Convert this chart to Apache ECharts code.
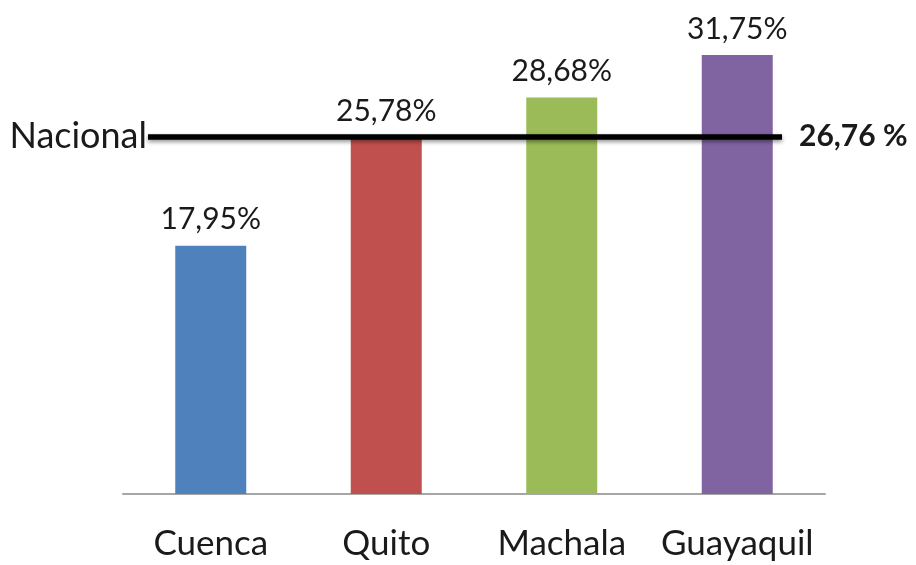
<!DOCTYPE html>
<html>
<head>
<meta charset="utf-8">
<script src="https://cdn.jsdelivr.net/npm/echarts@6/dist/echarts.min.js"></script>
<style>html,body{margin:0;padding:0;background:#fff}#c{width:916px;height:565px}</style>
</head>
<body>
<div id="c"></div>
<script>
var categories = ['Cuenca', 'Quito', 'Machala', 'Guayaquil'];
var values = [17.95, 25.78, 28.68, 31.75];
var barColors = ['#4F81BD', '#C0504D', '#9BBB59', '#8064A2'];
var nacionalLabel = 'Nacional';
var nacionalValueText = '26,76 %';
var nacionalLinePos = 25.85; // position of the line

var FONT = 'Lato';
var chart = echarts.init(document.getElementById('c'), null, {renderer: 'canvas'});
chart.setOption({
  animation: false,
  backgroundColor: '#ffffff',
  grid: {left: 123, right: 91, top: 10, bottom: 71},
  xAxis: {
    type: 'category',
    data: categories,
    axisLine: {show: true, lineStyle: {color: '#a6a6a6', width: 2}},
    axisTick: {show: false},
    axisLabel: {interval: 0, hideOverlap: false, color: '#1a1a1a', fontFamily: FONT, fontSize: 35, margin: 32}
  },
  yAxis: {
    type: 'value', min: 0, max: 35,
    show: false, splitLine: {show: false}
  },
  series: [{
    type: 'bar',
    barWidth: 71,
    data: values.map(function (v, i) { return {value: v, itemStyle: {color: barColors[i]}}; }),
    label: {
      show: true, position: 'top', distance: 11,
      color: '#1a1a1a', fontFamily: FONT, fontSize: 30,
      formatter: function (p) { return p.value.toFixed(2).replace('.', ',') + '%'; }
    },
    markLine: {
      silent: true,
      symbol: 'none',
      data: [
        [
          {x: 148, yAxis: nacionalLinePos,
           lineStyle: {type: 'solid', color: '#000', width: 5.5, shadowBlur: 4, shadowColor: 'rgba(0,0,0,0.45)', shadowOffsetY: 2},
           label: {show: true, position: 'start', formatter: nacionalLabel, distance: 1, color: '#1a1a1a', fontFamily: FONT, fontSize: 36, fontWeight: 'normal'}},
          {x: 782, yAxis: nacionalLinePos}
        ],
        [
          {x: 148, yAxis: nacionalLinePos,
           lineStyle: {type: 'solid', color: 'rgba(0,0,0,0)', width: 1},
           label: {show: true, position: 'end', formatter: nacionalValueText, distance: 17, color: '#1a1a1a', fontFamily: FONT, fontSize: 30, fontWeight: 'bold'}},
          {x: 782, yAxis: nacionalLinePos}
        ]
      ]
    }
  }]
});
</script>
</body>
</html>
